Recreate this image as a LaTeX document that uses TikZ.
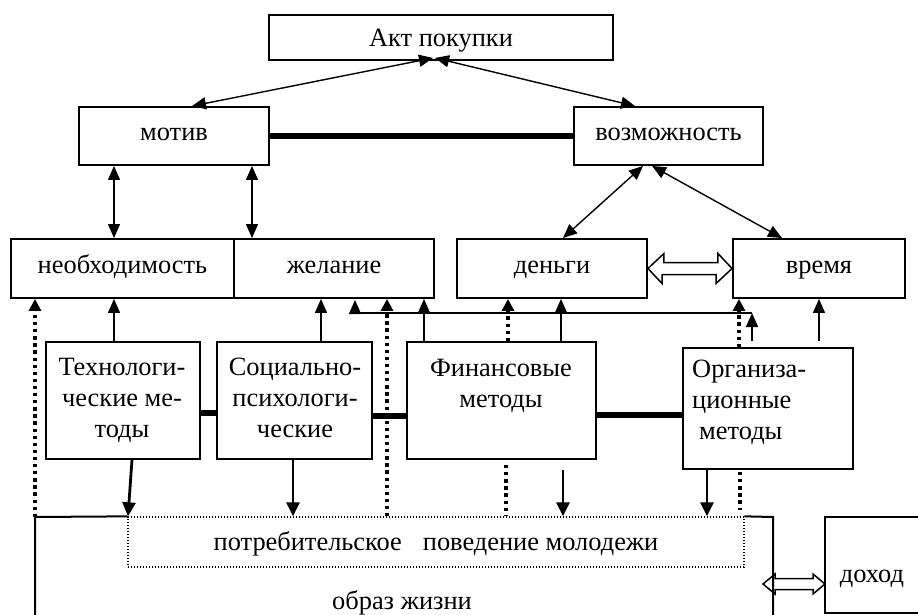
\documentclass[tikz,border=0pt]{standalone}
\usepackage{fontspec}
\setmainfont{Liberation Serif}
\usetikzlibrary{arrows.meta,calc}
\begin{document}
\begin{tikzpicture}[x=1pt,y=-1pt,
 box/.style={draw,line width=1.9pt,inner sep=0pt,text height=17pt,text depth=8pt,font=\fontsize{26.4}{31}\selectfont},
 mbox/.style={draw,line width=1.9pt,inner sep=0pt},
 txt/.style={inner sep=0pt,font=\fontsize{26.4}{31}\selectfont},
 ar/.style={line width=1.4pt,-{Triangle[length=14pt,width=12pt]}},
 dar/.style={line width=1.4pt,{Triangle[length=14pt,width=12pt]}-{Triangle[length=14pt,width=12pt]}},
 thk/.style={line width=2.8pt,-{Triangle[length=14pt,width=13pt]}},
 dots/.style={line width=3.3pt,dash pattern=on 3.3pt off 3.8pt},
 dotar/.style={dots,-{Triangle[length=12pt,width=12pt]}},
 bar/.style={line width=5.5pt},
 hollow/.style={draw,line width=1.5pt,line join=miter},
 outer/.style={line width=2pt}]
\useasboundingbox (0,0) rectangle (918,615);

% top boxes
\node[box,minimum width=344pt,minimum height=45pt,text height=20pt,text depth=1.6pt] (akt) at (441,37.5) {Акт покупки};
\node[box,minimum width=190pt,minimum height=58pt] (motiv) at (174,136) {мотив};
\node[box,minimum width=189pt,minimum height=58pt] (vozm) at (668.5,136) {возможность};
\node[box,minimum width=223pt,minimum height=59pt] (neobh) at (122.5,268.5) {необходимость};
\node[box,minimum width=200pt,minimum height=59pt] (zhel) at (334,268.5) {желание};
\node[box,minimum width=190pt,minimum height=59pt] (dengi) at (552,268.5) {деньги};
\node[box,minimum width=172pt,minimum height=59pt] (vremya) at (819,268.5) {время};

% method boxes
\node[mbox,minimum width=154pt,minimum height=117pt] (tech) at (123,400.5) {};
\node[txt,align=center,anchor=north] (techT) at (122,357.8) {Технологи-\\ческие ме-\\тоды};
\node[mbox,minimum width=155pt,minimum height=117pt] (soc) at (294.5,400.5) {};
\node[txt,align=center,anchor=north] (socT) at (295,357.4) {Социально-\\психологи-\\ческие};
\node[mbox,minimum width=189pt,minimum height=117pt] (fin) at (501.5,400.5) {};
\node[txt,align=center,anchor=north] (finT) at (501,358.8) {Финансовые\\методы};
\node[mbox,minimum width=170pt,minimum height=121pt] (org) at (768,408.5) {};
\node[txt,align=left,anchor=north west] (orgT) at (692,359.4) {Организа-\\ционные\\\hspace*{7pt}методы};

% bottom
\node[draw,line width=1.3pt,dash pattern=on 1.3pt off 1.7pt,minimum width=616pt,minimum height=50pt,inner sep=0pt] (potr) at (436,542) {};
\node[txt,anchor=base] (potrT) at (436,550) {потребительское\hspace{21pt}поведение молодежи};
\node[txt,anchor=base] (obraz) at (402,609) {образ жизни};
\node[mbox,minimum width=100pt,minimum height=96pt] (dohod) at (875,565) {};
\node[txt,anchor=base] (dohodT) at (872,582) {доход};

\coordinate (hl) at (763,584);
\coordinate (hr) at (825,584);
\draw[hollow] (hl) -- ++(12,-10) -- ++(0,4.5) -- ++(38,0) -- ++(0,-4.5) -- (hr) -- ++(-12,10) -- ++(0,-4.5) -- ++(-38,0) -- ++(0,4.5) -- cycle;

\draw[outer] (potr.north west) -- (35,517) -- (35,630);
\draw[outer] (potr.north east) -- (773,517) -- (773,630);

% top arrows
\draw[dar] ($(motiv.north)+(18,0)$) -- ($(akt.south)+(-8,-3)$);
\draw[dar] ($(akt.south)+(-6,-3)$) -- ($(vozm.north)+(-33.5,0)$);
\draw[dar] (114,0 |- motiv.south) -- (114,0 |- neobh.north);
\draw[dar] (252,0 |- motiv.south) -- (252,0 |- zhel.north);
\draw[dar] ($(vozm.south)+(-25.5,0)$) -- ($(dengi.north)+(11,0)$);
\draw[dar] ($(vozm.south)+(-16.5,0)$) -- ($(vremya.north)+(-37,0)$);

% thick bars
\draw[bar] (motiv.east) -- (vozm.west);
\draw[bar] (tech.east |- 0,413) -- (soc.west |- 0,413);
\draw[bar] (soc.east |- 0,416) -- (fin.west |- 0,416);
\draw[bar] (fin.east |- 0,415) -- (org.west |- 0,415);

% hollow double arrow money-time
\draw[hollow] (dengi.east) -- ++(16,-15) -- ++(0,9) -- ++(54,0) -- ++(0,-9) -- (vremya.west) -- ++(-16,15) -- ++(0,-9) -- ++(-54,0) -- ++(0,9) -- cycle;

% thin up arrows
\draw[ar] (114,0 |- tech.north) -- (114,0 |- neobh.south);
\draw[ar] (321,0 |- soc.north) -- (321,0 |- zhel.south);
\draw[ar] (424,0 |- fin.north) -- (424,0 |- zhel.south);
\draw[ar] (561,0 |- fin.north) -- (561,0 |- dengi.south);
\coordinate (oT1) at ($(org.north)+(51,-6)$);
\coordinate (oT2) at ($(org.north)+(-16,-6)$);
\coordinate (g) at (752,313);
\coordinate (gl) at (355,313);
\coordinate (gt) at (355,300);
\draw[ar] (oT1) -- (oT1 |- vremya.south);
\draw[ar] (oT2) -- (g);
\draw[ar] (g) -- (gl) -- (gt);

% dotted arrows
\draw[dotar] (35,517) -- (35,0 |- neobh.south);
\draw[dotar] (387,0 |- potr.north) -- (387,0 |- zhel.south);
\draw[dotar] (508,0 |- fin.north) -- (508,0 |- dengi.south);
\draw[dotar] (739,0 |- org.north) -- (739,0 |- vremya.south);
\draw[dots] (506,465) -- (506,0 |- potr.north);
\draw[dots] (740,472) -- (740,510);

% thick down arrows
\draw[thk] (132,0 |- tech.south) -- (128,0 |- potr.north);
\draw[thk] (293,0 |- soc.south) -- (293,0 |- potr.north);
\draw[thk] (563,470) -- (563,0 |- potr.north);
\draw[thk] (707,0 |- org.south) -- (707,0 |- potr.north);
\end{tikzpicture}
\end{document}
